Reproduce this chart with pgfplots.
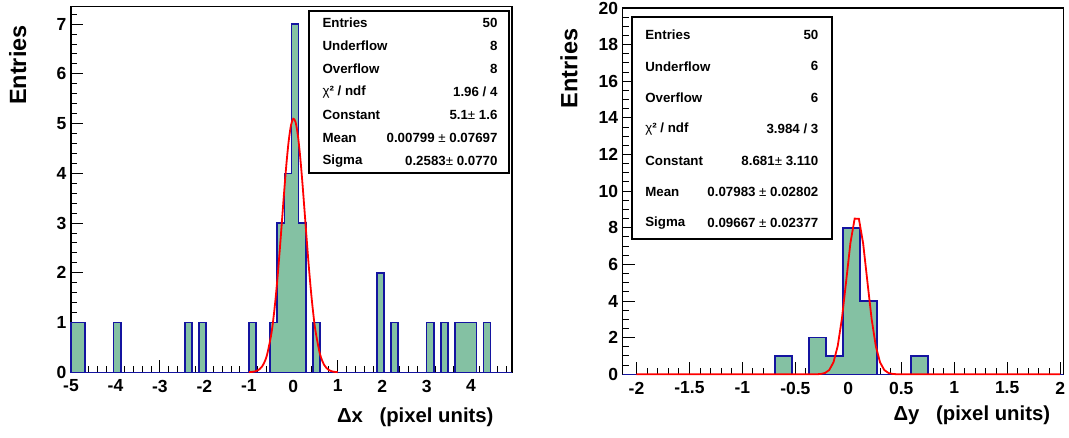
\documentclass[border=0pt]{standalone}
\usepackage{fontspec}
\setmainfont{Liberation Sans}
\usepackage{pgfplots}
\pgfplotsset{compat=1.18}
\definecolor{histfill}{RGB}{132,193,163}
\definecolor{histline}{RGB}{20,20,160}
\newcommand{\statfont}{\fontsize{13.3}{16}\selectfont\bfseries}
\newcommand{\titlefont}{\fontsize{20.3}{24}\selectfont\bfseries}
\newcommand{\ytitlefont}{\fontsize{23.5}{28}\selectfont\bfseries}
\pgfplotsset{rootstyle/.style={
  scale only axis,
  anchor=south west,
  clip=false,
  axis line style={line width=1.3pt, black},
  tick align=inside,
  tick pos=left,
  major tick length=12pt,
  minor tick length=6pt,
  every tick/.style={black, line width=1pt},
  ticklabel style={font=\fontsize{17.5}{20}\selectfont\bfseries},
  xticklabel style={yshift=-4pt},
  yticklabel style={xshift=-1pt},
  /pgf/number format/assume math mode=true,
}}
\begin{document}
\begin{tikzpicture}
\useasboundingbox (0pt,0pt) rectangle (1069pt,437pt);
% ---------------- left panel ----------------
\begin{axis}[rootstyle,
  at={(71pt,64.7pt)}, width=441pt, height=365.6pt,
  xmin=-5, xmax=4.92, ymin=0, ymax=7.35,
  xtick={-5,-4,-3,-2,-1,0,1,2,3,4},
  xticklabels={-5,-4,-3,-2,-1,0,1,2,3,4},
  minor xtick={-4.8,-4.6,-4.4,-4.2,-3.8,-3.6,-3.4,-3.2,-2.8,-2.6,-2.4,-2.2,-1.8,-1.6,-1.4,-1.2,-0.8,-0.6,-0.4,-0.2,0.2,0.4,0.6,0.8,1.2,1.4,1.6,1.8,2.2,2.4,2.6,2.8,3.2,3.4,3.6,3.8,4.2,4.4,4.6,4.8},
  ytick={0,1,2,3,4,5,6,7},
  minor ytick={0.2,0.4,0.6,0.8,1.2,1.4,1.6,1.8,2.2,2.4,2.6,2.8,3.2,3.4,3.6,3.8,4.2,4.4,4.6,4.8,5.2,5.4,5.6,5.8,6.2,6.4,6.6,6.8,7.2},
]
\addplot[const plot, fill=histfill, draw=histline, line width=1.6pt] coordinates {
  (-5,1) (-4.68,0) (-4.04,1) (-3.88,0) (-2.44,1) (-2.28,0) (-2.12,1) (-1.96,0)
  (-1,1) (-0.84,0) (-0.52,1) (-0.36,3) (-0.2,4) (-0.04,7) (0.12,3) (0.28,0)
  (0.44,1) (0.6,0) (1.88,2) (2.04,0) (2.2,1) (2.36,0) (3.0,1) (3.16,0)
  (3.32,1) (3.48,0) (3.64,1) (4.12,0) (4.28,1) (4.44,0) (4.92,0)
} \closedcycle;
\addplot[red, line width=1.8pt, smooth] coordinates {
  (-1.0,0.003) (-0.9,0.011) (-0.8,0.038) (-0.7,0.119) (-0.6,0.319) (-0.5,0.737)
  (-0.45,1.059) (-0.4,1.464) (-0.35,1.952) (-0.3,2.505) (-0.25,3.097) (-0.2,3.688)
  (-0.15,4.230) (-0.1,4.673) (-0.05,4.973) (0,5.098) (0.05,5.033) (0.1,4.786)
  (0.15,4.385) (0.2,3.869) (0.25,3.289) (0.3,2.692) (0.35,2.123) (0.4,1.612)
  (0.45,1.180) (0.5,0.831) (0.6,0.369) (0.7,0.141) (0.8,0.046) (0.9,0.013) (1.0,0.003)
};
\draw[line width=1.5pt, fill=white] (rel axis cs:0.5397,0.5451) rectangle (rel axis cs:0.9932,0.9882);
\node[anchor=west, font=\statfont] at (rel axis cs:0.5624,0.9554) {Entries};
\node[anchor=east, font=\statfont] at (rel axis cs:0.9751,0.9554) {50};
\node[anchor=west, font=\statfont] at (rel axis cs:0.5624,0.8925) {Underflow};
\node[anchor=east, font=\statfont] at (rel axis cs:0.9751,0.8925) {8};
\node[anchor=west, font=\statfont] at (rel axis cs:0.5624,0.8296) {Overflow};
\node[anchor=east, font=\statfont] at (rel axis cs:0.9751,0.8296) {8};
\node[anchor=west, font=\statfont] at (rel axis cs:0.5624,0.7667) {{\mdseries χ}² / ndf};
\node[anchor=east, font=\statfont] at (rel axis cs:0.9751,0.7667) {1.96 / 4};
\node[anchor=west, font=\statfont] at (rel axis cs:0.5624,0.7038) {Constant};
\node[anchor=east, font=\statfont] at (rel axis cs:0.9751,0.7038) {5.1{\mdseries ±} 1.6};
\node[anchor=west, font=\statfont] at (rel axis cs:0.5624,0.6409) {Mean};
\node[anchor=east, font=\statfont] at (rel axis cs:0.9751,0.6409) {0.00799 {\mdseries ±} 0.07697};
\node[anchor=west, font=\statfont] at (rel axis cs:0.5624,0.5780) {Sigma};
\node[anchor=east, font=\statfont] at (rel axis cs:0.9751,0.5780) {0.2583{\mdseries ±} 0.0770};
\node[anchor=east, font=\titlefont] at (rel axis cs:0.966,-0.122) {Δx\hspace{0.82em}(pixel units)};
\node[anchor=east, rotate=90, font=\ytitlefont] at (rel axis cs:-0.121,0.959) {Entries};
\end{axis}
% ---------------- right panel ----------------
\begin{axis}[rootstyle,
  at={(622.7pt,62.7pt)}, width=440.6pt, height=366.3pt,
  xmin=-2.13, xmax=2.03, ymin=0, ymax=20,
  xtick={-2,-1.5,-1,-0.5,0,0.5,1,1.5,2},
  xticklabels={-2,-1.5,-1,-0.5,0,0.5,1,1.5,2},
  minor xtick={-1.9,-1.8,-1.7,-1.6,-1.4,-1.3,-1.2,-1.1,-0.9,-0.8,-0.7,-0.6,-0.4,-0.3,-0.2,-0.1,0.1,0.2,0.3,0.4,0.6,0.7,0.8,0.9,1.1,1.2,1.3,1.4,1.6,1.7,1.8,1.9},
  ytick={0,2,4,6,8,10,12,14,16,18,20},
  minor ytick={0.5,1,1.5,2.5,3,3.5,4.5,5,5.5,6.5,7,7.5,8.5,9,9.5,10.5,11,11.5,12.5,13,13.5,14.5,15,15.5,16.5,17,17.5,18.5,19,19.5},
]
\addplot[const plot, fill=histfill, draw=histline, line width=1.6pt] coordinates {
  (-2.13,0) (-0.69,1) (-0.53,0) (-0.37,2) (-0.21,1) (-0.05,8) (0.11,4) (0.27,0)
  (0.59,1) (0.75,0) (2.03,0)
} \closedcycle;
\addplot[red, line width=1.8pt] coordinates {
  (-2,0) (-0.30,0.002) (-0.26,0.019) (-0.22,0.071) (-0.18,0.234) (-0.14,0.654)
  (-0.10,1.538) (-0.06,3.050) (-0.02,5.093) (0.02,7.168) (0.06,8.500) (0.10,8.494)
  (0.14,7.152) (0.18,5.075) (0.22,3.034) (0.26,1.528) (0.30,0.649) (0.34,0.232)
  (0.38,0.070) (0.42,0.018) (0.46,0.004) (0.50,0.001) (2,0)
};
\draw[line width=1.5pt, fill=white] (rel axis cs:0.0211,0.3694) rectangle (rel axis cs:0.4750,0.9754);
\node[anchor=west, font=\statfont] at (rel axis cs:0.0434,0.9263) {Entries};
\node[anchor=east, font=\statfont] at (rel axis cs:0.4520,0.9263) {50};
\node[anchor=west, font=\statfont] at (rel axis cs:0.0434,0.8406) {Underflow};
\node[anchor=east, font=\statfont] at (rel axis cs:0.4520,0.8406) {6};
\node[anchor=west, font=\statfont] at (rel axis cs:0.0434,0.7548) {Overflow};
\node[anchor=east, font=\statfont] at (rel axis cs:0.4520,0.7548) {6};
\node[anchor=west, font=\statfont] at (rel axis cs:0.0434,0.6691) {{\mdseries χ}² / ndf};
\node[anchor=east, font=\statfont] at (rel axis cs:0.4520,0.6691) {3.984 / 3};
\node[anchor=west, font=\statfont] at (rel axis cs:0.0434,0.5834) {Constant};
\node[anchor=east, font=\statfont] at (rel axis cs:0.4520,0.5834) {8.681{\mdseries ±} 3.110};
\node[anchor=west, font=\statfont] at (rel axis cs:0.0434,0.4977) {Mean};
\node[anchor=east, font=\statfont] at (rel axis cs:0.4520,0.4977) {0.07983 {\mdseries ±} 0.02802};
\node[anchor=west, font=\statfont] at (rel axis cs:0.0434,0.4120) {Sigma};
\node[anchor=east, font=\statfont] at (rel axis cs:0.4520,0.4120) {0.09667 {\mdseries ±} 0.02377};
\node[anchor=east, font=\titlefont] at (rel axis cs:0.978,-0.111) {Δy\hspace{0.82em}(pixel units)};
\node[anchor=east, rotate=90, font=\ytitlefont] at (rel axis cs:-0.122,0.954) {Entries};
\end{axis}
\end{tikzpicture}
\end{document}
